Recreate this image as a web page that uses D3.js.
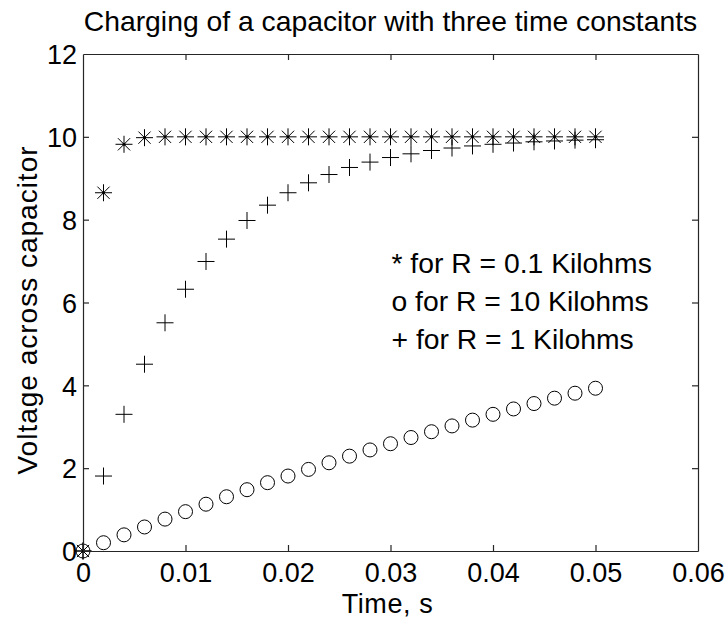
<!DOCTYPE html>
<html>
<head>
<meta charset="utf-8">
<script src="https://cdn.jsdelivr.net/npm/d3@7"></script>
<style>
  html, body { margin: 0; padding: 0; background: #fff; }
  svg { display: block; }
  text { font-family: "Liberation Sans", Arial, sans-serif; fill: #000; }
</style>
</head>
<body>
<svg id="chart" width="728" height="622"></svg>
<script>
const time = [0, 0.002, 0.004, 0.006, 0.008, 0.010, 0.012, 0.014, 0.016, 0.018, 0.020, 0.022, 0.024,
  0.026, 0.028, 0.030, 0.032, 0.034, 0.036, 0.038, 0.040, 0.042, 0.044, 0.046, 0.048, 0.050];
// R = 0.1 kOhm (stars)
const vFast = [0, 8.65, 9.82, 9.98, 10.0, 10.0, 10.0, 10.0, 10.0, 10.0, 10.0, 10.0, 10.0,
  10.0, 10.0, 10.0, 10.0, 10.0, 10.0, 10.0, 10.0, 10.0, 10.0, 10.0, 10.0, 10.0];
// R = 10 kOhm (circles)
const vSlow = [0, 0.20, 0.39, 0.58, 0.77, 0.95, 1.13, 1.31, 1.48, 1.65, 1.81, 1.97, 2.13,
  2.29, 2.44, 2.59, 2.74, 2.88, 3.02, 3.16, 3.30, 3.43, 3.56, 3.69, 3.81, 3.93];
// R = 1 kOhm (plus)
const vMid = [0, 1.81, 3.30, 4.51, 5.51, 6.32, 6.99, 7.53, 7.98, 8.35, 8.65, 8.89, 9.09,
  9.26, 9.39, 9.50, 9.59, 9.67, 9.73, 9.78, 9.82, 9.85, 9.88, 9.90, 9.92, 9.93];

const xTicks = [0, 0.01, 0.02, 0.03, 0.04, 0.05, 0.06];
const yTicks = [0, 2, 4, 6, 8, 10, 12];
const title = "Charging of a capacitor with three time constants";
const xLabel = "Time, s";
const yLabel = "Voltage across capacitor";
const notes = ["* for R = 0.1 Kilohms", "o for R = 10 Kilohms", "+ for R = 1 Kilohms"];
const noteY = [6.71, 5.80, 4.88];
const noteX = 0.03;

const svg = d3.select("#chart");
const L = 83, R = 698, T = 54, B = 551;
const x = d3.scaleLinear().domain([0, 0.06]).range([L, R]);
const y = d3.scaleLinear().domain([0, 12]).range([B, T]);
const axisColor = "#262626";
const tickLen = 6;

// markers
const g = svg.append("g");
const starS = 8.5;
g.selectAll("path.star").data(time).join("path")
  .attr("class", "star")
  .attr("transform", (d, i) => `translate(${x(d)},${y(vFast[i])})`)
  .attr("d", () => {
    const s = starS, d2 = starS * 0.72;
    return `M${-s},0H${s}M0,${-s}V${s}M${-d2},${-d2}L${d2},${d2}M${-d2},${d2}L${d2},${-d2}`;
  })
  .attr("stroke", "#000").attr("stroke-width", 1).attr("fill", "none");
g.selectAll("circle.dot").data(time).join("circle")
  .attr("class", "dot")
  .attr("cx", d => x(d)).attr("cy", (d, i) => y(vFast[i])).attr("r", 1.5).attr("fill", "#000");

g.selectAll("circle.o").data(time).join("circle")
  .attr("class", "o")
  .attr("cx", d => x(d)).attr("cy", (d, i) => y(vSlow[i]))
  .attr("r", 7)
  .attr("stroke", "#000").attr("stroke-width", 1).attr("fill", "none");

const plusS = 8.5;
g.selectAll("path.plus").data(time).join("path")
  .attr("class", "plus")
  .attr("transform", (d, i) => `translate(${x(d)},${y(vMid[i])})`)
  .attr("d", `M${-plusS},0H${plusS}M0,${-plusS}V${plusS}`)
  .attr("stroke", "#000").attr("stroke-width", 1).attr("fill", "none");

// axes (box with inward ticks)
const fontSize = 27;
const xAxisB = d3.axisBottom(x).tickValues(xTicks).tickSizeInner(-tickLen).tickSizeOuter(0)
  .tickFormat(d => d3.format("")(+d.toFixed(2)));
const xAxisT = d3.axisTop(x).tickValues(xTicks).tickSizeInner(-tickLen).tickSizeOuter(0).tickFormat("");
const yAxisL = d3.axisLeft(y).tickValues(yTicks).tickSizeInner(-tickLen).tickSizeOuter(0);
const yAxisR = d3.axisRight(y).tickValues(yTicks).tickSizeInner(-tickLen).tickSizeOuter(0).tickFormat("");

function style(sel) {
  sel.selectAll("path.domain").attr("stroke", axisColor).attr("stroke-width", 1.2);
  sel.selectAll(".tick line").attr("stroke", axisColor).attr("stroke-width", 1.2);
  sel.selectAll(".tick text").attr("font-size", fontSize)
    .attr("font-family", "'Liberation Sans', Arial, sans-serif").attr("fill", "#000");
}
const gxb = svg.append("g").attr("transform", `translate(0,${B})`).call(xAxisB).call(style);
gxb.selectAll(".tick text").attr("y", 31).attr("dy", 0);
const gxt = svg.append("g").attr("transform", `translate(0,${T})`).call(xAxisT).call(style);
const gyl = svg.append("g").attr("transform", `translate(${L},0)`).call(yAxisL).call(style);
gyl.selectAll(".tick text").attr("x", -6).attr("dy", "0.36em");
const gyr = svg.append("g").attr("transform", `translate(${R},0)`).call(yAxisR).call(style);
[gxb, gxt].forEach(a => a.selectAll(".tick line").filter(d => d === 0 || d === 0.06).remove());
[gyl, gyr].forEach(a => a.selectAll(".tick line").filter(d => d === 0 || d === 12).remove());

// title and labels
svg.append("text").attr("x", (L + R) / 2).attr("y", 31)
  .attr("text-anchor", "middle").attr("font-size", 28.3).text(title);
svg.append("text").attr("x", (L + R) / 2 - 3).attr("y", 613)
  .attr("text-anchor", "middle").attr("font-size", 27).attr("letter-spacing", 0.6).text(xLabel);
svg.append("text").attr("transform", `translate(37,310) rotate(-90)`)
  .attr("text-anchor", "middle").attr("font-size", 28).attr("letter-spacing", 1).text(yLabel);

// annotations
svg.selectAll("text.note").data(notes).join("text")
  .attr("class", "note")
  .attr("x", x(noteX) + 1).attr("y", (d, i) => y(noteY[i]))
  .attr("font-size", 28.3).text(d => d);
</script>
</body>
</html>
